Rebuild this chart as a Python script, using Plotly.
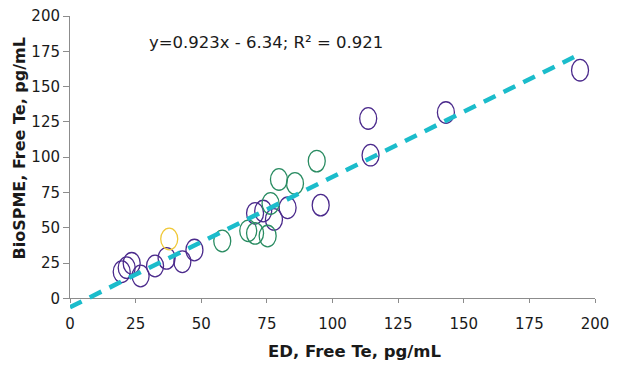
import plotly.graph_objects as go

# ---- data ----
purple_x = [19.7, 21.6, 23.5, 26.9, 32.4, 36.8, 42.8, 47.4, 70.5, 73.6, 77.7, 82.9, 95.5, 113.6, 114.5, 143.2, 194.3]
purple_y = [18.8, 21.7, 24.8, 15.8, 22.9, 28.3, 25.9, 34.2, 60.2, 61.8, 55.9, 64.1, 66.0, 127.4, 101.4, 131.6, 161.6]
green_x = [58.0, 67.9, 70.5, 75.3, 76.4, 79.6, 85.7, 94.0]
green_y = [40.6, 47.8, 46.0, 44.1, 67.2, 84.2, 81.4, 97.2]
yellow_x = [37.8]
yellow_y = [42.0]
trend_x = [0, 192]
trend_y = [-6.3, 170.9]
tick_vals = [0, 25, 50, 75, 100, 125, 150, 175, 200]
x_title = "ED, Free Te, pg/mL"
y_title = "BioSPME, Free Te, pg/mL"
equation = "y=0.923x - 6.34; R² = 0.921"

PURPLE = "#4b2a8c"
GREEN = "#2a8c62"
YELLOW = "#f0c93a"
CYAN = "#1bbccb"
FONT = "DejaVu Sans"

OFF = 8                       # page body margin
W, H = 620 - OFF, 370 - OFF
ML, MR, MT, MB = 70 - OFF, 25, 16 - OFF, 60
plot_w = W - ML - MR
plot_h = H - MT - MB
y0_px = 298.3 - OFF
a = (H - MB - y0_px) / plot_h          # fraction below y=0 used by the trend line
y_low = -200 * a / (1 - a)


def px_x(p):
    return (p - OFF - ML) / plot_w


def px_y(p):
    return (H - MB - (p - OFF)) / plot_h


fig = go.Figure()

# trend line on an auxiliary axis so it may extend below y=0
fig.add_trace(go.Scatter(x=trend_x, y=trend_y, mode="lines", xaxis="x", yaxis="y2",
                         line=dict(color=CYAN, width=4.5, dash="13px,9px"),
                         showlegend=False, hoverinfo="skip"))

shapes = []
for xs, ys, col, name in [(purple_x, purple_y, PURPLE, "purple"),
                          (green_x, green_y, GREEN, "green"),
                          (yellow_x, yellow_y, YELLOW, "yellow")]:
    fig.add_trace(go.Scatter(x=xs, y=ys, mode="markers", name=name, showlegend=False,
                             marker=dict(size=18, color="rgba(0,0,0,0)",
                                         line=dict(width=0, color="rgba(0,0,0,0)"))))
    for xv, yv in zip(xs, ys):
        shapes.append(dict(type="circle", xref="x", yref="y", layer="below",
                           xsizemode="pixel", ysizemode="pixel",
                           xanchor=xv, yanchor=yv,
                           x0=-8.5, x1=8.5, y0=-10.8, y1=10.8,
                           line=dict(color=col, width=1.3),
                           fillcolor="rgba(0,0,0,0)"))

axis_common = dict(showgrid=False, zeroline=False, showline=True, linecolor="#8c8c8c",
                   linewidth=1, ticks="outside", tickcolor="#8c8c8c",
                   ticklabeloverflow="allow", automargin=False,
                   tickvals=tick_vals, tickfont=dict(family=FONT, size=15, color="#1a1a1a"))

fig.update_layout(
    width=W, height=H,
    margin=dict(l=ML, r=MR, t=MT, b=MB),
    paper_bgcolor="white", plot_bgcolor="rgba(0,0,0,0)",
    xaxis=dict(range=[0, 200], domain=[0, 1], anchor="y", ticklen=4,
               ticklabelstandoff=8, **axis_common),
    yaxis=dict(range=[0, 200], domain=[a, 1], anchor="x", ticklen=6, **axis_common),
    yaxis2=dict(range=[y_low, 200], domain=[0, 1], anchor="x", visible=False,
                showgrid=False, zeroline=False, automargin=False),
    shapes=shapes,
    annotations=[
        dict(text="<b>" + x_title + "</b>", xref="paper", yref="paper",
             x=px_x(355), y=px_y(351.5),
             xanchor="center", yanchor="middle", showarrow=False,
             font=dict(family=FONT, size=16.5, color="#1a1a1a")),
        dict(text="<b>" + y_title + "</b>", xref="paper", yref="paper",
             x=px_x(19), y=px_y(148.5),
             xanchor="center", yanchor="middle", textangle=-90, showarrow=False,
             font=dict(family=FONT, size=16, color="#1a1a1a")),
        dict(text=equation, xref="paper", yref="paper",
             x=px_x(147), y=px_y(42.7),
             xanchor="left", yanchor="middle", showarrow=False,
             font=dict(family=FONT, size=16.5, color="#1a1a1a")),
    ],
)

fig.write_html("out.html")
